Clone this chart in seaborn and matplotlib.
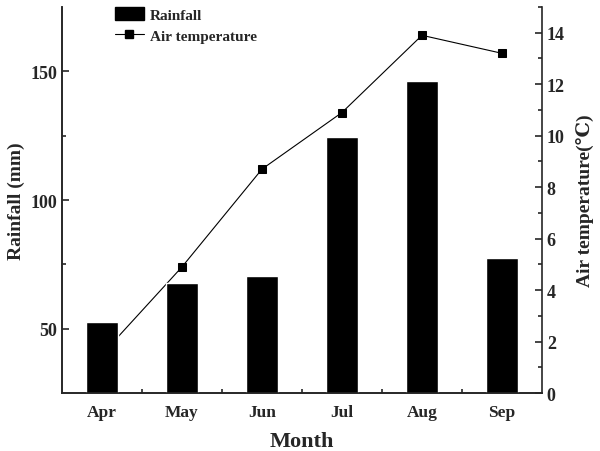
import numpy as np
import pandas as pd
import matplotlib
matplotlib.use("Agg")
import matplotlib.pyplot as plt
from matplotlib.ticker import MultipleLocator, FixedLocator
from matplotlib.patches import Patch
from matplotlib.lines import Line2D
import seaborn as sns

months = ["Apr", "May", "Jun", "Jul", "Aug", "Sep"]
rainfall = [52.6, 67.6, 70.4, 124.4, 146.4, 77.4]
air_temp = [1.5, 4.9, 8.7, 10.9, 13.9, 13.2]

df = pd.DataFrame({"month": months, "rainfall": rainfall, "temp": air_temp})

sns.set_style("ticks")
plt.rcParams["font.family"] = ["Liberation Serif", "DejaVu Serif"]
plt.rcParams["font.weight"] = "bold"

fig = plt.figure(figsize=(6, 4.52), dpi=100)
ax = fig.add_axes([0.1033, 0.1283, 0.80, 0.854])

# rainfall bars
sns.barplot(data=df, x="month", y="rainfall", color="black", width=0.4,
            saturation=1, ax=ax)
ax.set_xlim(-0.5, 5.5)
ax.set_ylim(25, 175)

# air temperature line on a twin axis, drawn behind the bars
ax2 = ax.twinx()
sns.lineplot(x=np.arange(len(months)), y=df["temp"], color="black", lw=0.8,
             marker="s", markersize=6, markeredgecolor="black", ax=ax2)
ax2.set_ylim(0, 15)
ax.set_zorder(ax2.get_zorder() + 1)
ax.patch.set_visible(False)

ax.set_xlabel("Month", fontsize=16, fontweight="bold", labelpad=8)
ax.set_ylabel("Rainfall (mm)", fontsize=14, fontweight="bold", labelpad=4)
ax2.set_ylabel("Air temperature(\u2103)", fontsize=14, fontweight="bold", labelpad=8)

ax.yaxis.set_major_locator(FixedLocator([50, 100, 150]))
ax.yaxis.set_minor_locator(FixedLocator([75, 125]))
ax.xaxis.set_minor_locator(FixedLocator([0.5, 1.5, 2.5, 3.5, 4.5]))
ax2.yaxis.set_major_locator(MultipleLocator(2))
ax2.yaxis.set_minor_locator(MultipleLocator(1))

for a in (ax, ax2):
    a.tick_params(which="major", direction="in", length=5, width=1.2, labelsize=13)
    a.tick_params(which="minor", direction="in", length=3, width=1.2)
    for s in a.spines.values():
        s.set_linewidth(1.2)
    a.spines["top"].set_visible(False)
ax.spines["right"].set_visible(False)
ax.tick_params(axis="x", pad=8, labelsize=12.5)
for lbl in ax.get_xticklabels() + ax.get_yticklabels() + ax2.get_yticklabels():
    lbl.set_fontweight("bold")

handles = [Patch(facecolor="black", edgecolor="black"),
           Line2D([], [], color="black", lw=0.8, marker="s", markersize=6)]
fig.legend(handles, ["Rainfall", "Air temperature"], loc="upper left",
           bbox_to_anchor=(0.168, 1.012), frameon=False,
           prop={"weight": "bold", "size": 11}, handlelength=1.9,
           handleheight=0.9, labelspacing=0.4, handletextpad=0.4)

fig.savefig("out.png", dpi=100)
